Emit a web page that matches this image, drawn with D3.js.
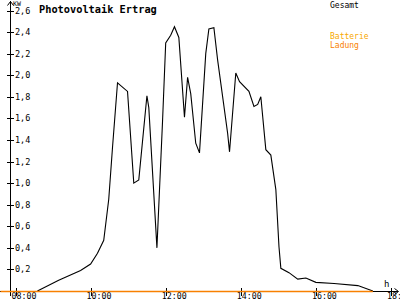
<!DOCTYPE html>
<html>
<head>
<meta charset="utf-8">
<script src="https://cdn.jsdelivr.net/npm/d3@7"></script>
<style>
  html, body { margin: 0; padding: 0; background: #fff; }
  svg { display: block; font-family: "DejaVu Sans Mono", monospace; }
</style>
</head>
<body>
<div id="chart"></div>
<script>
// Gesamt series (kW)
const gesamtTimes = ['08:35', '09:09', '09:44', '10:00', '10:11', '10:21', '10:29', '10:35', '10:43', '10:59',
  '11:09', '11:17', '11:30', '11:33', '11:46', '11:55', '12:00', '12:08', '12:14', '12:21',
  '12:30', '12:35', '12:40', '12:48', '12:54', '13:04', '13:09', '13:17', '13:23', '13:39',
  '13:42', '13:52', '13:58', '14:13', '14:21', '14:27', '14:32', '14:40', '14:48', '14:56',
  '15:01', '15:04', '15:17', '15:31', '15:44', '16:00', '16:29', '17:07', '17:31'];
const gesamtValues = [0, 0.10, 0.19, 0.25, 0.35, 0.47, 0.85, 1.33, 1.93, 1.85,
  1.00, 1.03, 1.81, 1.70, 0.40, 1.58, 2.30, 2.37, 2.45, 2.35,
  1.61, 1.98, 1.83, 1.37, 1.28, 2.20, 2.43, 2.44, 2.14, 1.46,
  1.29, 2.02, 1.94, 1.85, 1.71, 1.73, 1.80, 1.31, 1.26, 0.94,
  0.41, 0.21, 0.17, 0.11, 0.12, 0.08, 0.07, 0.05, 0];

// Batterie Ladung series (kW)
const ladungTimes = ['08:35', '17:31'];
const ladungValues = [0, 0];

const yTicks = [0.2, 0.4, 0.6, 0.8, 1.0, 1.2, 1.4, 1.6, 1.8, 2.0, 2.2, 2.4, 2.6];
const xTicks = ['08:00', '10:00', '12:00', '14:00', '16:00', '18:00'];
const legendItems = [
  { label: 'Gesamt', color: '#000' },
  { label: 'Batterie', color: '#f8a800' },
  { label: 'Ladung', color: '#f88000' },
];

const W = 400, H = 300;
const toHours = (s) => { const [h, m] = s.split(':').map(Number); return h + m / 60; };

const x = d3.scaleLinear().domain([8, 18]).range([15.5, 391]);
const y = d3.scaleLinear().domain([0, 2.6]).range([291, 10.5]);

const svg = d3.select('#chart').append('svg').attr('width', W).attr('height', H);

// axes
const axis = svg.append('g').attr('stroke', '#000').attr('shape-rendering', 'crispEdges');
axis.append('line').attr('x1', 10.5).attr('x2', 10.5).attr('y1', 1).attr('y2', 296);
axis.append('line').attr('x1', 0).attr('x2', 398).attr('y1', 291.5).attr('y2', 291.5);
svg.append('path').attr('d', 'M7.5,5.5 L10.5,1.5 L13.5,5.5').attr('fill', 'none').attr('stroke', '#000');
svg.append('path').attr('d', 'M394.5,288.5 L398.5,291.5 L394.5,294.5').attr('fill', 'none').attr('stroke', '#000');

axis.selectAll('.yt').data(yTicks).join('line')
  .attr('x1', 7).attr('x2', 14)
  .attr('y1', (d) => Math.round(y(d)) + 0.5).attr('y2', (d) => Math.round(y(d)) + 0.5);
svg.selectAll('.yl').data(yTicks).join('text')
  .attr('x', 15).attr('y', (d) => Math.round(y(d)) + 3)
  .attr('font-size', 8.5).attr('fill', '#000')
  .text((d) => d.toFixed(1).replace('.', ','));

axis.selectAll('.xt').data(xTicks).join('line')
  .attr('x1', (d) => Math.round(x(toHours(d))) + 0.5).attr('x2', (d) => Math.round(x(toHours(d))) + 0.5)
  .attr('y1', 288).attr('y2', 296);
svg.selectAll('.xl').data(xTicks).join('text')
  .attr('x', (d) => x(toHours(d)) - 4).attr('y', 299)
  .attr('font-size', 8.3).attr('fill', '#000')
  .text((d) => d);

svg.append('text').attr('x', 13).attr('y', 6).attr('font-size', 6.5).text('KW');
svg.append('text').attr('x', 384).attr('y', 287).attr('font-size', 9).text('h');

// title
svg.append('text').attr('x', 39).attr('y', 13)
  .attr('font-size', 10.3).attr('font-weight', 'bold').text('Photovoltaik Ertrag');

// series
const line = d3.line().x((d) => x(d[0])).y((d) => y(d[1]));
svg.append('path')
  .datum(gesamtTimes.map((t, i) => [toHours(t), gesamtValues[i]]))
  .attr('fill', 'none').attr('stroke', '#000').attr('stroke-width', 1.1)
  .attr('d', line);
svg.append('path')
  .datum([[7.6, 0], ...ladungTimes.map((t, i) => [toHours(t), ladungValues[i]])])
  .attr('fill', 'none').attr('stroke', '#f88000').attr('stroke-width', 1.4)
  .attr('transform', 'translate(0,0.5)')
  .attr('d', line);

// legend
svg.selectAll('.lg').data(legendItems).join('text')
  .attr('x', 330).attr('y', (d, i) => (i === 0 ? 8 : 39 + (i - 1) * 8.5))
  .attr('font-size', 8).attr('fill', (d) => d.color)
  .text((d) => d.label);
</script>
</body>
</html>
